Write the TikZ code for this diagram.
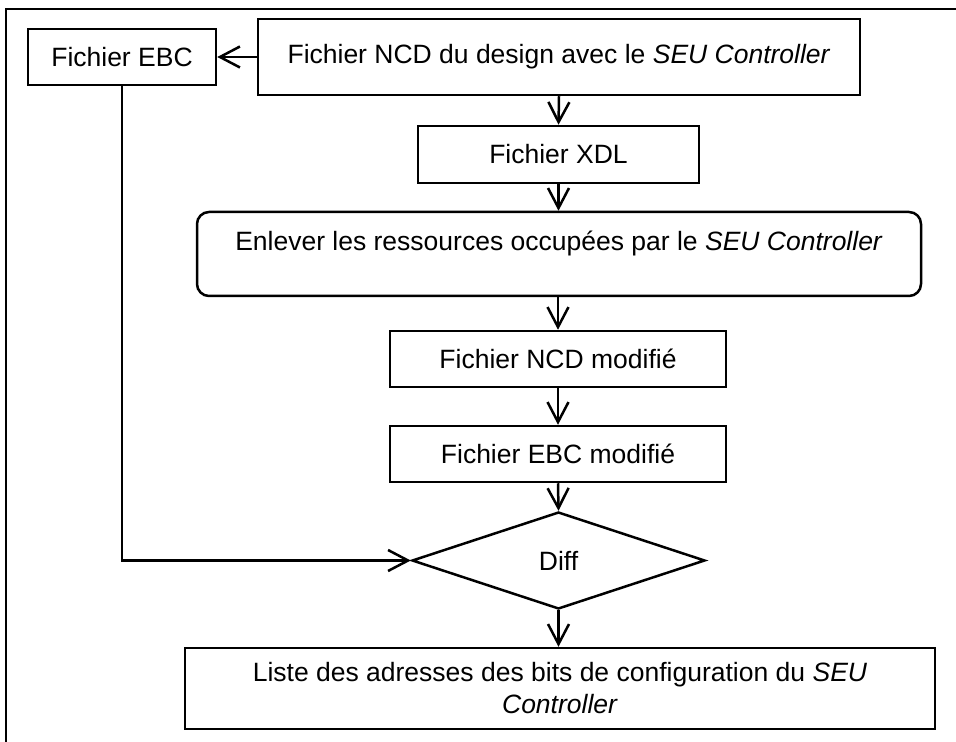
\documentclass[tikz,border=0pt]{standalone}
\usepackage{fontspec}
\setmainfont{Liberation Sans}
\usetikzlibrary{arrows.meta,shapes.geometric}
\tikzset{
  box/.style={draw, line width=1.25pt, inner sep=0pt, font=\fontsize{13.25pt}{16pt}\selectfont, align=center},
  txt/.style={inner sep=0pt, font=\fontsize{13.25pt}{16pt}\selectfont, align=center},
  arr/.style={line width=1.25pt, -{Straight Barb[length=10pt,width=10.5pt,line width=1.25pt]}},
  frame/.style={line width=1.25pt}
}
\begin{document}
\begin{tikzpicture}[x=0.5pt,y=-0.5pt]
\useasboundingbox (0,0) rectangle (956,742);
% frame (top and left edges only)
\coordinate (fTR) at (956,9);
\coordinate (fTL) at (6,9);
\coordinate (fBL) at (6,742);
\draw[frame] (fTR) -- (fTL) -- (fBL);

\node[box, minimum width=94pt, minimum height=28pt] (ebc) at (122,57) {Fichier EBC};
\node[box, minimum width=301pt, minimum height=38pt] (ncd) at (559,57) {Fichier NCD du design avec le \textit{SEU Controller}};
\node[box, minimum width=140.5pt, minimum height=28.5pt] (xdl) at (558.5,154.5) {Fichier XDL};
\node[box, rounded corners=6pt, minimum width=362pt, minimum height=42pt] (enl) at (559,254) {};
\node[txt] (enltxt) at (559,243) {Enlever les ressources occupées par le \textit{SEU Controller}};
\node[box, minimum width=168pt, minimum height=28pt] (ncdm) at (558,359) {Fichier NCD modifié};
\node[box, minimum width=168pt, minimum height=28pt] (ebcm) at (558,454) {Fichier EBC modifié};
\node[box, diamond, aspect=3.02, minimum width=146.5pt, minimum height=48.5pt] (diff) at (558.5,560.5) {Diff};
\node[box, minimum width=375pt, minimum height=40.5pt] (liste) at (560,688.5) {Liste des adresses des bits de configuration du \textit{SEU}\\\textit{Controller}};

\draw[arr] (ncd.west) -- (ebc.east);
\draw[arr] (ncd.south) -- (xdl.north);
\draw[arr] (xdl.south) -- (xdl.south |- enl.north);
\draw[arr] (ncdm.north |- enl.south) -- (ncdm.north);
\draw[arr] (ncdm.south) -- (ebcm.north);
\draw[arr] (ebcm.south) -- (diff.north);
\draw[arr] (diff.south) -- (liste.north -| diff.south);
\draw[arr] (ebc.south) |- (diff.west);
\end{tikzpicture}
\end{document}
